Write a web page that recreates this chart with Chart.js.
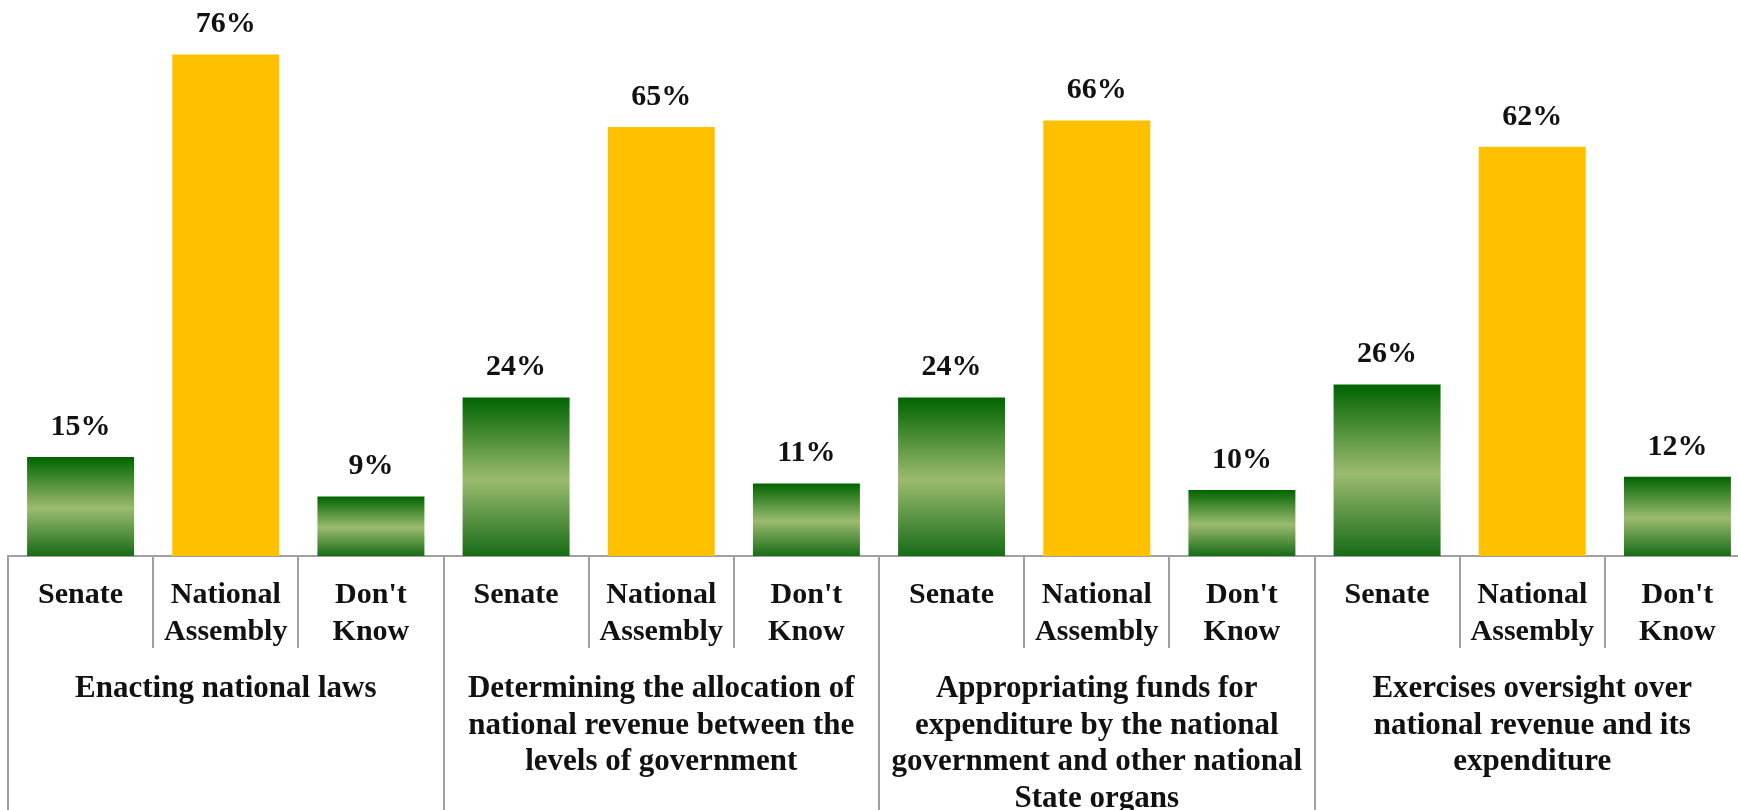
<!DOCTYPE html>
<html>
<head>
<meta charset="utf-8">
<script src="https://cdn.jsdelivr.net/npm/chart.js@4/dist/chart.umd.min.js"></script>
<style>
    html, body { margin: 0; padding: 0; background: #fff; overflow: hidden; }
    #wrap { width: 1750px; height: 810px; }
</style>
</head>
<body>
<div id="wrap"><canvas id="barChart" width="1750" height="810"></canvas></div>
<script>
const groups = [
    ['Enacting national laws'],
    ['Determining the allocation of', 'national revenue between the', 'levels of government'],
    ['Appropriating funds for', 'expenditure by the national', 'government and other national', 'State organs'],
    ['Exercises oversight over', 'national revenue and its', 'expenditure']
];
const answers = [['Senate'], ['National', 'Assembly'], ["Don't", 'Know']];
const senateValues = [15, 24, 24, 26];
const assemblyValues = [76, 65, 66, 62];
const dontKnowValues = [9, 11, 10, 12];

const fontFamily = "'Liberation Serif', 'Times New Roman', serif";
const lineColor = '#a0a0a0';

// one bar per answer, group after group
const labels = [];
const values = [];
const isAssembly = [];
groups.forEach((g, i) => {
    labels.push(answers[0], answers[1], answers[2]);
    values.push(senateValues[i], assemblyValues[i], dontKnowValues[i]);
    isAssembly.push(false, true, false);
});

function barColor(ctx) {
    if (isAssembly[ctx.dataIndex]) return '#FFC000';
    const chart = ctx.chart;
    if (!chart.chartArea) return '#3a8a2a';
    const y = chart.scales.y;
    const top = y.getPixelForValue(ctx.raw);
    const bottom = y.getPixelForValue(0);
    const grad = chart.ctx.createLinearGradient(0, top, 0, bottom);
    grad.addColorStop(0, '#006400');
    grad.addColorStop(0.52, '#9BBB6E');
    grad.addColorStop(1, '#176b17');
    return grad;
}

const valueLabels = {
    id: 'valueLabels',
    afterDatasetsDraw(chart) {
        const c = chart.ctx;
        const meta = chart.getDatasetMeta(0);
        c.save();
        c.font = 'bold 30px ' + fontFamily;
        c.fillStyle = '#111';
        c.textAlign = 'center';
        c.textBaseline = 'middle';
        meta.data.forEach((bar, i) => {
            c.fillText(values[i] + '%', bar.x, bar.y - 30);
        });
        c.restore();
    }
};

const ctx = document.getElementById('barChart').getContext('2d');
const chart = new Chart(ctx, {
    type: 'bar',
    data: {
        labels: labels,
        datasets: [{
            data: values,
            backgroundColor: barColor,
            barPercentage: 0.737,
            categoryPercentage: 1
        }]
    },
    options: {
        responsive: false,
        animation: false,
        layout: { padding: { left: 8, right: 0, top: 28, bottom: 0 } },
        plugins: { legend: { display: false }, tooltip: { enabled: false } },
        scales: {
            y: { display: false, min: 0, max: 80 },
            x: {
                position: 'bottom',
                offset: true,
                border: { display: true, color: lineColor, width: 2 },
                grid: { offset: true, drawOnChartArea: false, color: lineColor, lineWidth: 2, tickLength: 92 },
                ticks: {
                    autoSkip: false, maxRotation: 0, padding: -71,
                    color: '#111',
                    font: { family: fontFamily, size: 30, weight: 'bold', lineHeight: 1.22 }
                },
                afterFit(scale) { scale.height = 92; }
            },
            group: {
                type: 'category',
                position: 'bottom',
                labels: groups,
                offset: true,
                border: { display: false },
                grid: { offset: true, drawOnChartArea: false, color: lineColor, lineWidth: 2, tickLength: 162 },
                ticks: {
                    autoSkip: false, maxRotation: 0, padding: -139,
                    color: '#111',
                    font: { family: fontFamily, size: 31, weight: 'bold', lineHeight: 1.18 }
                },
                afterFit(scale) { scale.height = 162; }
            }
        }
    },
    plugins: [valueLabels]
});
</script>
</body>
</html>
